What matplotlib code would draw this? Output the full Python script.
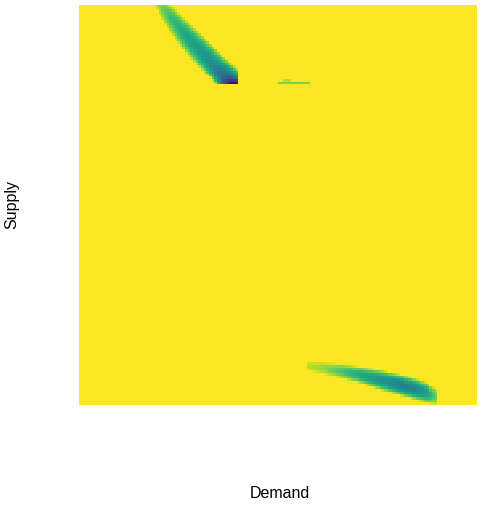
import numpy as np
import matplotlib
matplotlib.use('Agg')
import matplotlib.pyplot as plt

plt.rcParams['font.family'] = ['Liberation Sans', 'DejaVu Sans']

# grid of the surface (Demand x Supply, both scaled 0..1)
n_cells = 150

# upper band: centre line, by Supply level
top_supply = [1.0, 0.9625, 0.9125, 0.8625, 0.8325, 0.8175, 0.8025]
top_centre = [0.209, 0.237, 0.280, 0.326, 0.358, 0.376, 0.392]
top_width = [0.020, 0.030, 0.040, 0.045, 0.047, 0.048, 0.050]
top_depth = [0.80, 0.66, 0.58, 0.52, 0.40, 0.30, 0.02]
top_limits = (0.40, 0.80)  # band only shown for demand <= 0.40 and supply >= 0.80

# lower band: centre line by Demand level
low_demand = [0.573, 0.606, 0.656, 0.706, 0.756, 0.807, 0.844, 0.874, 0.899]
low_centre = [0.0975, 0.0925, 0.085, 0.075, 0.0625, 0.05, 0.04, 0.03, 0.02]
low_width = [0.010, 0.014, 0.018, 0.021, 0.025, 0.027, 0.027, 0.026, 0.020]
low_depth = [0.90, 0.85, 0.72, 0.60, 0.52, 0.44, 0.45, 0.55, 0.80]

# thin streak right of the cut-off (row, first col, last col, value)
streak = [(120, 75, 86, 0.80), (121, 77, 79, 0.90)]

u = (np.arange(n_cells) + 0.5) / n_cells
U, V = np.meshgrid(u, u)
Z = np.ones((n_cells, n_cells))

# upper band
cx = np.interp(V, top_supply[::-1], top_centre[::-1])
hw = np.interp(V, top_supply[::-1], top_width[::-1])
mn = np.interp(V, top_supply[::-1], top_depth[::-1])
prof = np.clip(1 - ((U - cx) / hw) ** 2, 0, 1) ** 0.8
inside = (U <= top_limits[0]) & (V >= top_limits[1])
Z = np.where(inside, np.minimum(Z, 1 - (1 - mn) * prof), Z)

# lower band
cy = np.interp(U, low_demand, low_centre)
hw = np.interp(U, low_demand, low_width)
mn = np.interp(U, low_demand, low_depth)
prof = np.clip(1 - ((V - cy) / hw) ** 2, 0, 1) ** 0.8
inside = (U >= low_demand[0]) & (U <= low_demand[-1])
Z = np.where(inside, np.minimum(Z, 1 - (1 - mn) * prof), Z)

for row, c0, c1, val in streak:
    Z[row, c0:c1 + 1] = val

fig = plt.figure(figsize=(4.82, 5.07), dpi=100)
ax = fig.add_axes([79 / 482, 102 / 507, 398 / 482, 400 / 507])
ax.imshow(Z, origin='lower', extent=[0, 1, 0, 1], cmap='viridis',
          vmin=0, vmax=1, interpolation='nearest', aspect='auto')
ax.set_xlim(0, 1)
ax.set_ylim(0, 1)
ax.axis('off')

fig.text(279.5 / 482, 1 - 493.5 / 507, 'Demand', ha='center', va='center', fontsize=11.5)
fig.text(12 / 482, 1 - 204 / 507, 'Supply', ha='center', va='center',
         rotation=90, fontsize=11.5)

fig.savefig('out.png', dpi=100)
